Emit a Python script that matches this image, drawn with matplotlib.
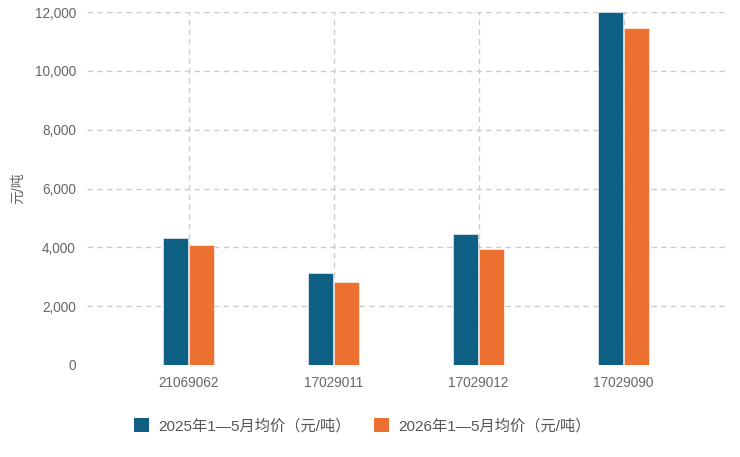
import matplotlib.pyplot as plt
import numpy as np
from matplotlib.patches import Patch
from matplotlib.ticker import FuncFormatter

plt.rcParams['font.family'] = ['Liberation Sans', 'Noto Sans CJK SC', 'DejaVu Sans']

categories = ['21069062', '17029011', '17029012', '17029090']
price_2025 = [4310, 3140, 4440, 11990]
price_2026 = [4070, 2810, 3935, 11460]
label_2025 = '2025年1—5月均价（元/吨）'
label_2026 = '2026年1—5月均价（元/吨）'

c_blue = '#0d6083'
c_orange = '#ec7131'
grey = '#666666'

fig = plt.figure(figsize=(7.4, 4.57), dpi=100)
ax = fig.add_axes([87/740, 1-365/457, (725-87)/740, (365-12)/457])

x = np.arange(len(categories))
w = 0.172
ax.bar(x - 0.09, price_2025, w, color=c_blue, edgecolor='white', linewidth=0.4, zorder=3)
ax.bar(x + 0.09, price_2026, w, color=c_orange, edgecolor='white', linewidth=0.4, zorder=3)

ax.set_xlim(-0.7, 3.7)
ax.set_ylim(0, 12000)
ax.set_yticks(np.arange(0, 12001, 2000))
ax.yaxis.set_major_formatter(FuncFormatter(lambda v, p: f'{int(v):,}'))
ax.set_xticks(x)
ax.set_xticklabels(categories)

for y in range(2000, 12001, 2000):
    ax.axhline(y, color='#cccccc', lw=1, ls=(0, (4, 3)), zorder=1)
for xi in x:
    ax.axvline(xi, color='#cccccc', lw=1, ls=(0, (4, 3)), zorder=1)

for s in ax.spines.values():
    s.set_visible(False)
ax.tick_params(length=0, colors=grey, labelsize=9.8)
ax.tick_params(axis='y', pad=8)
ax.tick_params(axis='x', pad=8)

# y axis title sits far left of the tick labels
fig.text(18/740, 1-188/457, '元/吨', rotation=90, color=grey, fontsize=10,
         ha='center', va='center')

handles = [Patch(facecolor=c_blue, label=label_2025),
           Patch(facecolor=c_orange, label=label_2026)]
fig.legend(handles=handles, loc='center', bbox_to_anchor=(0.49, 0.068), ncol=2,
           frameon=False, fontsize=11, labelcolor='#555555',
           handlelength=1.0, handleheight=1.0, handletextpad=0.6, columnspacing=1.5)

fig.savefig('out.png', dpi=100)
